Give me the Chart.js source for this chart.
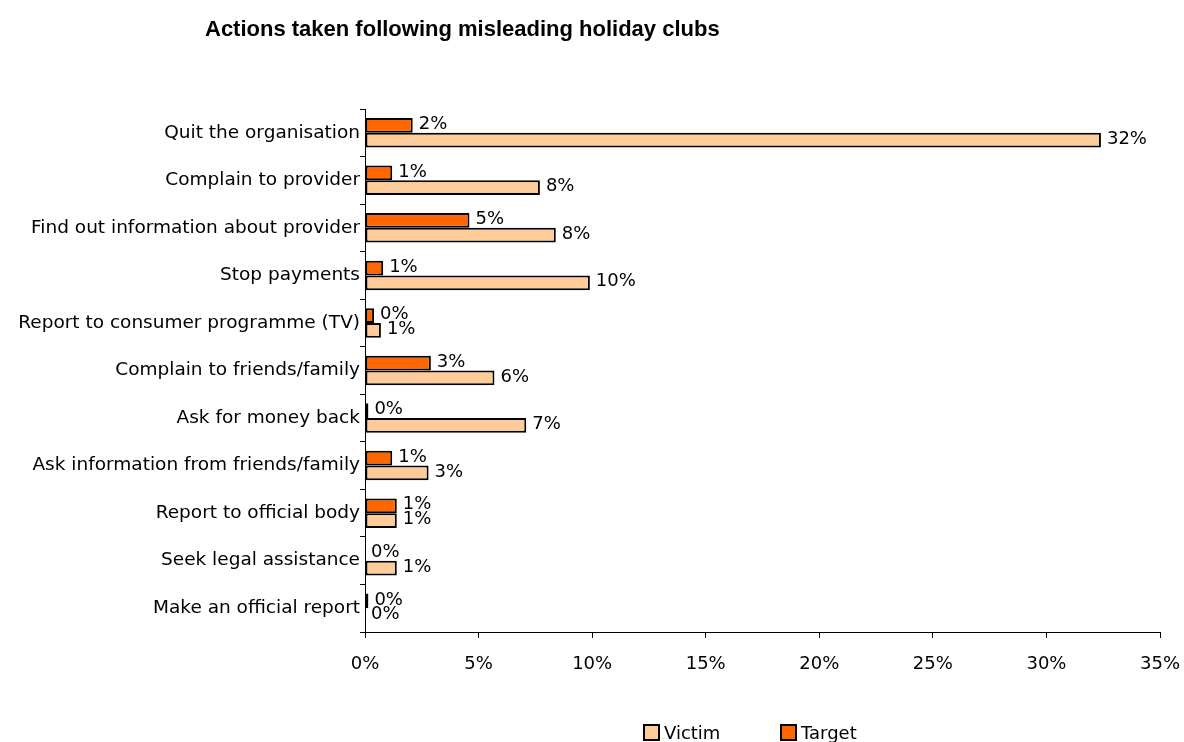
<!DOCTYPE html>
<html>
<head>
<meta charset="utf-8">
<script src="https://cdn.jsdelivr.net/npm/chart.js@4"></script>
<style>
  body { margin: 0; background: #fff; }
  #wrap { position: relative; width: 1184px; height: 742px; }
  #title {
    position: absolute; left: 205px; top: 16px;
    font: bold 22px "Liberation Sans", Arial, sans-serif; color: #000;
  }
  #legend {
    position: absolute; top: 723px; left: 643px;
    font: 18px "DejaVu Sans", sans-serif; color: #000;
  }
  #legend span.item { position: absolute; white-space: nowrap; line-height: 20px; }
  #legend i {
    display: inline-block; width: 13px; height: 13px; border: 2px solid #000;
    vertical-align: -2px; margin-right: 4px;
  }
</style>
</head>
<body>
<div id="wrap">
  <canvas id="actionsChart" width="1184" height="742"></canvas>
  <div id="title">Actions taken following misleading holiday clubs</div>
  <div id="legend">
    <span class="item" style="left:0"><i style="background:#FFCC99"></i>Victim</span>
    <span class="item" style="left:137px"><i style="background:#FF6600"></i>Target</span>
  </div>
</div>
<script>
var categories = [
  'Quit the organisation',
  'Complain to provider',
  'Find out information about provider',
  'Stop payments',
  'Report to consumer programme (TV)',
  'Complain to friends/family',
  'Ask for money back',
  'Ask information from friends/family',
  'Report to official body',
  'Seek legal assistance',
  'Make an official report'
];
var victimValues = [32.4, 7.7, 8.4, 9.9, 0.7, 5.7, 7.1, 2.8, 1.4, 1.4, 0];
var targetValues = [2.1, 1.2, 4.6, 0.8, 0.4, 2.9, 0.15, 1.2, 1.4, 0, 0.15];
var xTicks = [0, 5, 10, 15, 20, 25, 30, 35];

var labelFont = '18px "DejaVu Sans", sans-serif';

// percentage labels at the end of each bar
var barLabels = {
  id: 'barLabels',
  afterDatasetsDraw: function(chart) {
    var ctx = chart.ctx;
    ctx.save();
    ctx.font = labelFont;
    ctx.fillStyle = '#000';
    ctx.textBaseline = 'middle';
    ctx.textAlign = 'left';
    chart.data.datasets.forEach(function(ds, i) {
      chart.getDatasetMeta(i).data.forEach(function(bar, j) {
        ctx.fillText(Math.round(ds.data[j]) + '%', bar.x + 6, bar.y - 1);
      });
    });
    ctx.restore();
  }
};

var ctx = document.getElementById('actionsChart').getContext('2d');
var actionsChart = new Chart(ctx, {
  type: 'bar',
  data: {
    labels: categories,
    datasets: [{
      label: 'Target',
      data: targetValues,
      backgroundColor: '#FF6600',
      borderColor: '#000',
      borderWidth: 2,
      borderSkipped: false
    }, {
      label: 'Victim',
      data: victimValues,
      backgroundColor: '#FFCC99',
      borderColor: '#000',
      borderWidth: 2,
      borderSkipped: false
    }]
  },
  options: {
    indexAxis: 'y',
    responsive: false,
    animation: false,
    layout: { padding: { top: 109, right: 0, left: 0, bottom: 0 } },
    datasets: { bar: { categoryPercentage: 0.62, barPercentage: 1.0 } },
    scales: {
      x: {
        min: 0,
        max: 35,
        afterBuildTicks: function(axis) {
          axis.ticks = xTicks.map(function(v) { return { value: v }; });
        },
        afterFit: function(axis) {
          axis.height = 110;
          axis.paddingLeft = 0;
          axis.paddingRight = 24;
        },
        grid: { drawOnChartArea: false, tickLength: 6, color: '#000' },
        border: { color: '#000', width: 1 },
        ticks: {
          color: '#000',
          font: { family: 'DejaVu Sans', size: 18 },
          padding: 16,
          maxRotation: 0,
          callback: function(v) { return v + '%'; }
        }
      },
      y: {
        afterFit: function(axis) { axis.width = 365; },
        grid: { offset: true, drawOnChartArea: false, tickLength: 5, color: '#000' },
        border: { color: '#000', width: 1 },
        ticks: {
          color: '#000',
          font: { family: 'DejaVu Sans', size: 18.5 },
          padding: 0
        }
      }
    },
    plugins: {
      legend: { display: false },
      tooltip: { enabled: false }
    }
  },
  plugins: [barLabels]
});
</script>
</body>
</html>
